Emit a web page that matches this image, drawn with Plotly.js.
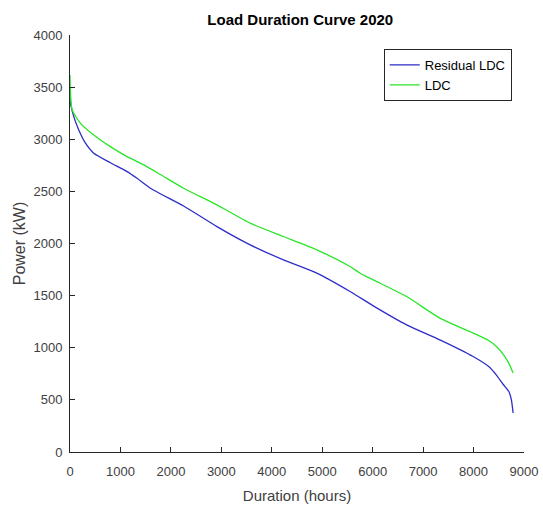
<!DOCTYPE html>
<html>
<head>
<meta charset="utf-8">
<script src="https://cdn.plot.ly/plotly-3.0.1.min.js"></script>
<style>html,body{margin:0;padding:0;background:#fff;}</style>
</head>
<body>
<div id="chart" style="width:543px;height:511px;"></div>
<script>
// LDC (green)
const ldcHours = [0, 5, 15, 43, 208, 471, 801, 1132, 1461, 1791, 2252, 2913, 3572, 4231, 4892, 5551, 5750, 6012, 6673, 7333, 7991, 8300, 8454, 8600, 8700, 8784];
const ldcPower = [3616, 3500, 3400, 3281, 3153, 3041, 2929, 2833, 2754, 2662, 2530, 2370, 2195, 2067, 1939, 1779, 1715, 1651, 1491, 1284, 1141, 1070, 1012, 930, 850, 757];
// Residual LDC (blue)
const resHours = [0, 10, 75, 174, 307, 471, 801, 1132, 1330, 1593, 2252, 2913, 3572, 4231, 4892, 5551, 6012, 6673, 7333, 7991, 8300, 8450, 8585, 8700, 8750, 8784];
const resPower = [3400, 3345, 3217, 3089, 2962, 2866, 2775, 2690, 2625, 2530, 2360, 2162, 1987, 1843, 1716, 1540, 1402, 1220, 1076, 916, 820, 740, 650, 580, 500, 374];
const xTicks = [0, 1000, 2000, 3000, 4000, 5000, 6000, 7000, 8000, 9000];
const yTicks = [0, 500, 1000, 1500, 2000, 2500, 3000, 3500, 4000];

const font = 'Liberation Sans, Arial, Helvetica, sans-serif';
const traces = [
  {x: resHours, y: resPower, type: 'scatter', mode: 'lines', name: 'Residual LDC',
   line: {color: 'rgb(45,45,200)', width: 1.3, shape: 'spline', smoothing: 0.6}},
  {x: ldcHours, y: ldcPower, type: 'scatter', mode: 'lines', name: 'LDC',
   line: {color: 'rgb(40,230,40)', width: 1.3, shape: 'spline', smoothing: 0.6}}
];
const axisCommon = {
  showline: true, linecolor: '#262626', linewidth: 1, mirror: false,
  ticks: 'inside', ticklen: 5, tickcolor: '#262626', showgrid: false, zeroline: false,
  tickfont: {family: font, size: 13, color: '#404040'}
};
const layout = {
  width: 543, height: 511,
  margin: {l: 69.5, r: 18.7, t: 35, b: 58.7},
  paper_bgcolor: '#fff', plot_bgcolor: '#fff',
  title: {text: 'Load Duration Curve 2020', font: {family: font, size: 15, color: '#000', weight: 'bold'},
          x: 0.553, xanchor: 'center', y: 0.961, yanchor: 'middle'},
  xaxis: Object.assign({}, axisCommon, {range: [0, 9000], tickvals: xTicks, ticktext: xTicks.map(String),
          ticklabelstandoff: 7,
          title: {text: 'Duration (hours)', font: {family: font, size: 15, color: '#404040'}, standoff: 12}}),
  yaxis: Object.assign({}, axisCommon, {range: [0, 4000], tickvals: yTicks, ticktext: yTicks.map(String),
          ticklabelstandoff: 4,
          title: {text: 'Power (kW)', font: {family: font, size: 16, color: '#404040'}, standoff: 3}}),
  showlegend: true,
  legend: {x: 0.973, xanchor: 'right', y: 0.9665, yanchor: 'top', bgcolor: '#fff',
           bordercolor: '#262626', borderwidth: 1, font: {family: font, size: 13, color: '#000'},
           tracegroupgap: 0, itemwidth: 30}
};
Plotly.newPlot('chart', traces, layout, {displayModeBar: false, staticPlot: true});
</script>
</body>
</html>
